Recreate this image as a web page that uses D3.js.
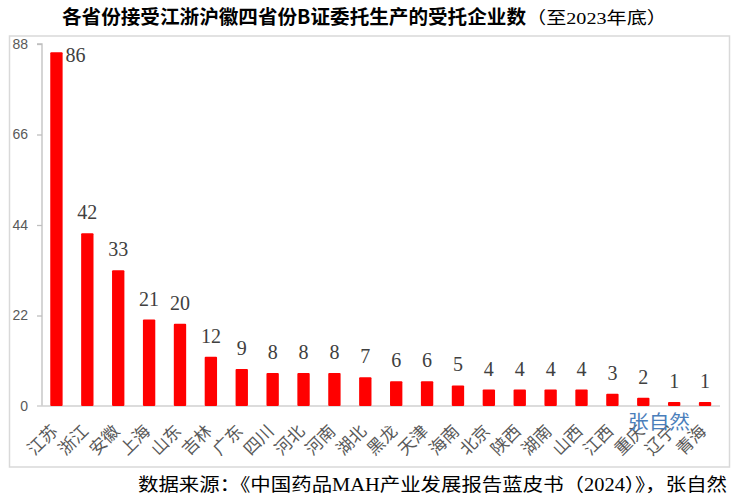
<!DOCTYPE html>
<html><head><meta charset="utf-8">
<script src="https://cdn.jsdelivr.net/npm/d3@7"></script>
<style>body{margin:0;background:#fff;}svg{display:block;}</style>
</head><body>
<svg id="chart" width="739" height="501"></svg>
<script>
const categories = ["江苏","浙江","安徽","上海","山东","吉林","广东","四川","河北","河南","湖北","黑龙","天津","海南","北京","陕西","湖南","山西","江西","重庆","辽宁","青海"];
const values = [86,42,33,21,20,12,9,8,8,8,7,6,6,5,4,4,4,4,3,2,1,1];
const yTicks = [0,22,44,66,88];
const titleMain = "各省份接受江浙沪徽四省份B证委托生产的受托企业数";
const titleSub = "（至2023年底）";
const sourceText = "数据来源：《中国药品MAH产业发展报告蓝皮书（2024）》，张自然";
const watermark = "张自然";

const svg = d3.select("#chart");
const serif = "'Liberation Serif','Noto Sans CJK SC',serif";
const cjk = "'Noto Sans CJK SC','Liberation Serif',sans-serif";

// frame
svg.append("rect").attr("x",9.5).attr("y",36).attr("width",720).attr("height",431)
  .attr("fill","none").attr("stroke","#d9d9d9").attr("stroke-width",1.5);

const x = d3.scaleBand().domain(categories).range([41,720.5]).paddingInner(0.6).paddingOuter(0.3);
const y = d3.scaleLinear().domain([0,88]).range([406,44]);

// y axis
const yAxis = d3.axisLeft(y).tickValues(yTicks).tickSize(5).tickPadding(9);
const ga = svg.append("g").attr("transform","translate(42,0)").call(yAxis);
ga.select(".domain").attr("stroke","#bfbfbf").attr("stroke-width",1.3).attr("d","M-5,44H0V406");
ga.selectAll(".tick line").attr("stroke","#bfbfbf").attr("stroke-width",1.3);
ga.selectAll(".tick text").attr("fill","#595959").style("font-family","'Liberation Sans',Arial,sans-serif").style("font-size","14px");
ga.selectAll(".tick").filter(d=>d===0).select("line").remove();

// baseline
svg.append("line").attr("x1",37).attr("x2",720).attr("y1",y(0)).attr("y2",y(0))
  .attr("stroke","#d0d0d0").attr("stroke-width",1.5);

// bars
svg.append("g").selectAll("rect").data(values).join("rect")
  .attr("x",(d,i)=>x(categories[i]))
  .attr("y",d=>y(d))
  .attr("width",x.bandwidth())
  .attr("height",d=>y(0)-y(d))
  .attr("rx",1)
  .attr("fill","#ff0000");

// value labels
svg.append("g").selectAll("text").data(values).join("text")
  .attr("x",(d,i)=> y(d)-14 < 60 ? x(categories[i])+x.bandwidth()+3 : x(categories[i])+x.bandwidth()/2)
  .attr("y",d=> y(d)-14 < 60 ? y(d)+10 : y(d)-14)
  .attr("text-anchor",d=> y(d)-14 < 60 ? "start" : "middle")
  .attr("fill","#404040")
  .style("font-family",serif).style("font-size","20px")
  .text(d=>d);

// x labels
svg.append("g").selectAll("text").data(categories).join("text")
  .attr("transform",d=>`translate(${x(d)+x.bandwidth()/2-2},${428}) rotate(-45)`)
  .attr("text-anchor","end")
  .attr("dy","0.35em")
  .attr("fill","#595959")
  .style("font-family",cjk).style("font-size","17px")
  .text(d=>d);

// watermark
svg.append("text").attr("x",628).attr("y",429).attr("fill","#4a7ebb")
  .style("font-family",cjk).style("font-size","19px").attr("textLength",62).attr("lengthAdjust","spacingAndGlyphs")
  .text(watermark);

// title
const t = svg.append("text").attr("x",62).attr("y",24);
t.append("tspan").style("font-family",cjk).style("font-weight","bold").style("font-size","19.5px").attr("fill","#000")
  .attr("textLength",464).attr("lengthAdjust","spacingAndGlyphs")
  .text(titleMain);
t.append("tspan").style("font-family",serif).style("font-size","17px").attr("fill","#000")
  .attr("textLength",141).attr("lengthAdjust","spacingAndGlyphs")
  .text(titleSub);

// source
svg.append("text").attr("x",138).attr("y",491).attr("fill","#000")
  .style("font-family",serif).style("font-size","18px")
  .attr("textLength",589).attr("lengthAdjust","spacingAndGlyphs")
  .text(sourceText);
</script>
</body></html>
